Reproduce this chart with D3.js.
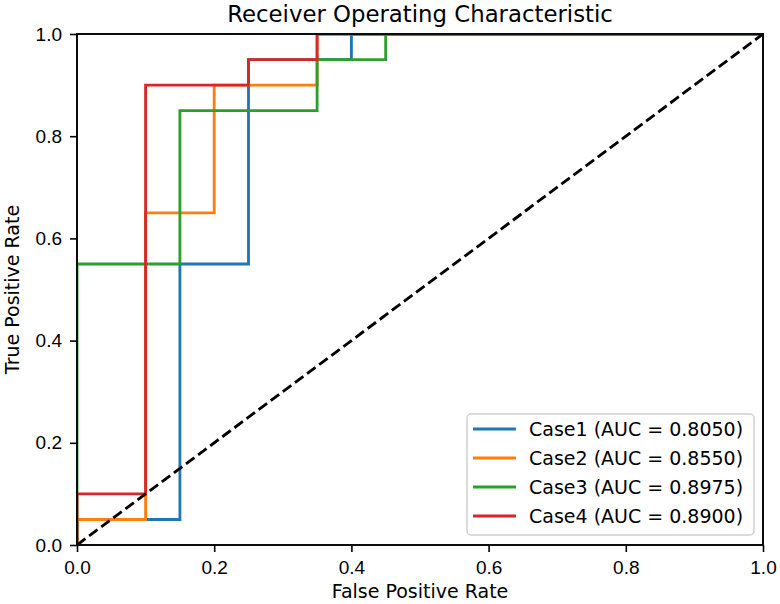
<!DOCTYPE html>
<html>
<head>
<meta charset="utf-8">
<script src="https://cdn.jsdelivr.net/npm/d3@7"></script>
<style>
  body { margin: 0; background: #fff; }
  svg { font-family: "DejaVu Sans", sans-serif; }
  .tick text { font-size: 19px; fill: #000; }
  .tick line { stroke: #000; stroke-width: 1.6; }
  .domain { display: none; }
</style>
</head>
<body>
<div id="chart"></div>
<script>
var svgWidth = 780;
var svgHeight = 604;

var margin = { top: 34, right: 17, bottom: 59, left: 77 };
var width = svgWidth - margin.left - margin.right;
var height = svgHeight - margin.top - margin.bottom;

// ROC curve points per case
var caseNames = ["Case1", "Case2", "Case3", "Case4"];
var aucValues = ["0.8050", "0.8550", "0.8975", "0.8900"];
var caseColors = ["#1f77b4", "#ff7f0e", "#2ca02c", "#d62728"];

var fpr1 = [0, 0, 0.15, 0.15, 0.25, 0.25, 0.4, 0.4, 1];
var tpr1 = [0, 0.05, 0.05, 0.55, 0.55, 0.95, 0.95, 1, 1];
var fpr2 = [0, 0, 0.1, 0.1, 0.2, 0.2, 0.35, 0.35, 1];
var tpr2 = [0, 0.05, 0.05, 0.65, 0.65, 0.9, 0.9, 1, 1];
var fpr3 = [0, 0, 0.15, 0.15, 0.35, 0.35, 0.45, 0.45, 1];
var tpr3 = [0, 0.55, 0.55, 0.85, 0.85, 0.95, 0.95, 1, 1];
var fpr4 = [0, 0, 0.1, 0.1, 0.25, 0.25, 0.35, 0.35, 1];
var tpr4 = [0, 0.1, 0.1, 0.9, 0.9, 0.95, 0.95, 1, 1];

var tickValues = [0, 0.2, 0.4, 0.6, 0.8, 1.0];

var fprs = [fpr1, fpr2, fpr3, fpr4];
var tprs = [tpr1, tpr2, tpr3, tpr4];

var svg = d3.select("#chart")
  .append("svg")
  .attr("width", svgWidth)
  .attr("height", svgHeight);

// clip slightly inside the frame so the spines cover the edge lines
svg.append("defs").append("clipPath")
  .attr("id", "plot-clip")
  .append("rect")
  .attr("x", 1)
  .attr("y", 1)
  .attr("width", width - 2)
  .attr("height", height - 2);

var chartGroup = svg.append("g")
  .attr("transform", `translate(${margin.left}, ${margin.top})`);

var xScale = d3.scaleLinear().domain([0, 1]).range([0, width]);
var yScale = d3.scaleLinear().domain([0, 1]).range([height, 0]);

var bottomAxis = d3.axisBottom(xScale)
  .tickValues(tickValues)
  .tickFormat(d3.format(".1f"))
  .tickSize(7)
  .tickPadding(7);
var leftAxis = d3.axisLeft(yScale)
  .tickValues(tickValues)
  .tickFormat(d3.format(".1f"))
  .tickSize(7)
  .tickPadding(8);

chartGroup.append("g")
  .attr("transform", `translate(0, ${height})`)
  .call(bottomAxis)
  .selectAll("text").attr("y", 16).attr("dy", "0.71em");

chartGroup.append("g")
  .call(leftAxis);

// curves
var line = d3.line()
  .x(d => xScale(d[0]))
  .y(d => yScale(d[1]));

var plotArea = chartGroup.append("g")
  .attr("clip-path", "url(#plot-clip)");

caseNames.forEach(function(name, i) {
  var pts = fprs[i].map((f, j) => [f, tprs[i][j]]);
  plotArea.append("path")
    .datum(pts)
    .attr("d", line)
    .attr("fill", "none")
    .attr("stroke", caseColors[i])
    .attr("stroke-width", 2.85)
    .attr("stroke-linejoin", "miter")
    .attr("stroke-linecap", "square");
});

// chance line
plotArea.append("path")
  .datum([[0, 0], [1, 1]])
  .attr("d", line)
  .attr("fill", "none")
  .attr("stroke", "#000")
  .attr("stroke-width", 2.85)
  .attr("stroke-dasharray", "10.5,4.6");

// frame
chartGroup.append("rect")
  .attr("width", width)
  .attr("height", height)
  .attr("fill", "none")
  .attr("stroke", "#000")
  .attr("stroke-width", 1.9);

// legend
var legend = chartGroup.append("g")
  .attr("transform", `translate(${467 - margin.left}, ${414 - margin.top})`);

legend.append("rect")
  .attr("width", 287)
  .attr("height", 121)
  .attr("rx", 4)
  .attr("fill", "#fff")
  .attr("fill-opacity", 0.8)
  .attr("stroke", "#d0d0d0")
  .attr("stroke-width", 1.5);

caseNames.forEach(function(name, i) {
  var row = legend.append("g")
    .attr("transform", `translate(0, ${15 + i * 29})`);
  row.append("line")
    .attr("x1", 6).attr("x2", 49)
    .attr("stroke", caseColors[i])
    .attr("stroke-width", 2.85);
  row.append("text")
    .attr("x", 62)
    .attr("dy", "0.35em")
    .style("font-size", "19px")
    .text(`${name} (AUC = ${aucValues[i]})`);
});

// title and axis labels
svg.append("text")
  .attr("x", margin.left + width / 2)
  .attr("y", 22)
  .attr("text-anchor", "middle")
  .style("font-size", "22.8px")
  .text("Receiver Operating Characteristic");

svg.append("text")
  .attr("x", margin.left + width / 2)
  .attr("y", 598)
  .attr("text-anchor", "middle")
  .style("font-size", "19px")
  .text("False Positive Rate");

svg.append("text")
  .attr("transform", "rotate(-90)")
  .attr("x", -(margin.top + height / 2))
  .attr("y", 19)
  .attr("text-anchor", "middle")
  .style("font-size", "19px")
  .text("True Positive Rate");
</script>
</body>
</html>
